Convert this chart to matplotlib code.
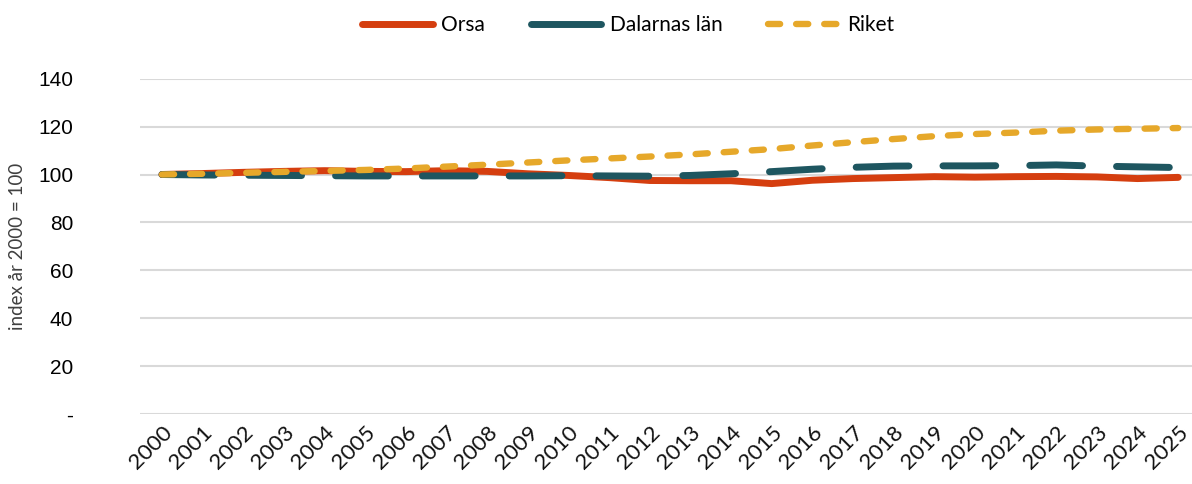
import matplotlib
matplotlib.use("Agg")
import matplotlib.pyplot as plt
from matplotlib.lines import Line2D

# data (index, year 2000 = 100)
years = [str(y) for y in range(2000, 2026)]
orsa = [100, 100.4, 100.9, 101.3, 101.6, 101.3, 101.2, 101.6, 101.3, 100.3,
        99.6, 98.7, 97.5, 97.4, 97.4, 96.2, 97.6, 98.3, 98.7, 99.1,
        98.9, 99.1, 99.2, 99.0, 98.3, 98.8]
dalarna = [100, 99.8, 99.7, 99.6, 99.5, 99.4, 99.4, 99.4, 99.4, 99.4,
           99.5, 99.4, 99.3, 99.6, 100.3, 101.2, 102.2, 103.0, 103.5, 103.6,
           103.6, 103.7, 104.0, 103.5, 103.2, 102.9]
riket = [100, 100.3, 100.7, 101.1, 101.5, 101.9, 102.5, 103.3, 104.1, 105.0,
         105.9, 106.7, 107.5, 108.4, 109.5, 110.6, 112.1, 113.5, 114.8, 116.0,
         116.9, 117.5, 118.3, 118.8, 119.1, 119.4]
series_names = ["Orsa", "Dalarnas län", "Riket"]
yticks = [0, 20, 40, 60, 80, 100, 120, 140]

c_orsa = "#D53E0F"
c_dal = "#1E5660"
c_riket = "#E6A82A"

thin = ["Lato", "DejaVu Sans"]

fig = plt.figure(figsize=(11.92, 4.84), dpi=100)
ax = fig.add_axes([140 / 1192, 1 - 414 / 484, 1 - 140 / 1192, (414 - 78.7) / 484])

x = list(range(len(years)))
ax.plot(x, orsa, color=c_orsa, lw=5, solid_capstyle="round", solid_joinstyle="round", zorder=3)
ax.plot(x, dalarna, color=c_dal, lw=5, linestyle=(0, (7.6, 4.9)),
        dash_capstyle="round", zorder=4)
ax.plot(x, riket, color=c_riket, lw=4.6, linestyle=(0, (1.9, 2.5)),
        dash_capstyle="round", zorder=5)

ax.set_xlim(-0.54, 25.34)
ax.set_ylim(0, 140)
ax.set_yticks(yticks)
ax.set_yticklabels(["-" if v == 0 else str(v) for v in yticks],
                   fontsize=15, family="Liberation Sans")
ax.set_xticks(x)
ax.set_xticklabels(years, rotation=45, ha="right", rotation_mode="anchor",
                   fontsize=16, family=thin, color="#111111")
ax.tick_params(axis="both", length=0)
ax.tick_params(axis="y", pad=48)
ax.tick_params(axis="x", pad=6)

ax.grid(axis="y", color="#D9D9D9", lw=1.5)
ax.set_axisbelow(True)
for s in ax.spines.values():
    s.set_visible(False)

ax.set_ylabel("index år 2000 = 100", fontsize=13.5, family=thin,
              color="#404040")
ax.yaxis.set_label_coords(-0.108, 0.5)

handles = [
    Line2D([], [], color=c_orsa, lw=5, solid_capstyle="round"),
    Line2D([], [], color=c_dal, lw=5, solid_capstyle="round"),
    Line2D([], [], color=c_riket, lw=4.6, linestyle=(0, (1.9, 2.5)), dash_capstyle="round"),
]
fig.legend(handles, series_names, loc="center", bbox_to_anchor=(0.527, 0.948),
           ncol=3, frameon=False, handlelength=3.4, handletextpad=0.4,
           columnspacing=2.2, prop={"family": thin, "size": 15})

fig.savefig("out.png", dpi=100)
